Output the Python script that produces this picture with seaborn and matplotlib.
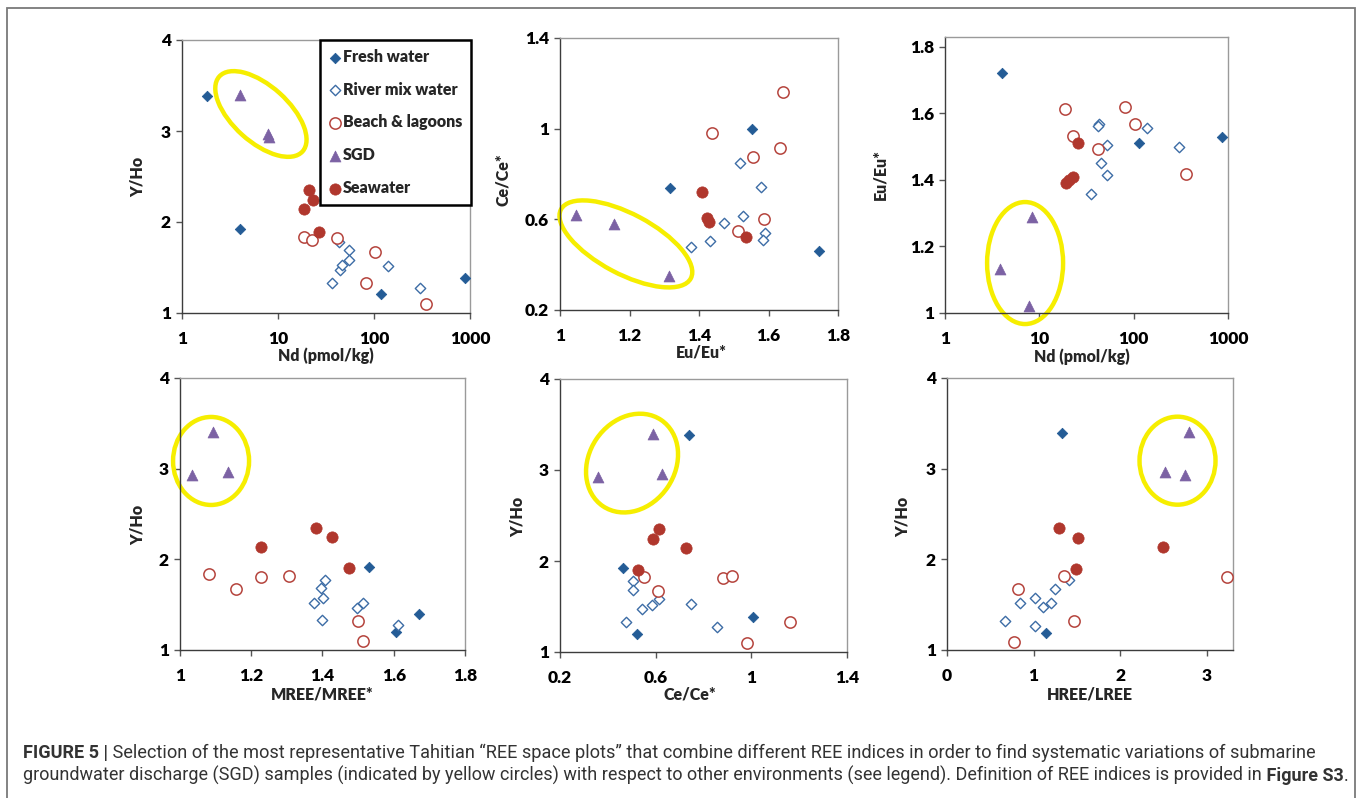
import matplotlib
matplotlib.use("Agg")
import matplotlib.pyplot as plt
import seaborn as sns
import pandas as pd
from matplotlib.patches import Ellipse, Rectangle
from matplotlib import transforms as mtransforms
from matplotlib import font_manager as fm
from matplotlib.ticker import FixedLocator, FuncFormatter, NullLocator

# ---------------- data ----------------
GROUPS = ["Fresh water", "River mix water", "Beach & lagoons", "SGD", "Seawater"]

# Panel A : Nd (pmol/kg) vs Y/Ho
A_FRESH_X = [1.8, 4.0, 118, 890]
A_FRESH_Y = [3.38, 1.92, 1.21, 1.39]
A_RIVER_X = [36.5, 42.8, 43.9, 46.4, 54.5, 54.5, 139, 304]
A_RIVER_Y = [1.33, 1.78, 1.47, 1.53, 1.69, 1.58, 1.52, 1.27]
A_BEACH_X = [18.5, 22.6, 41.2, 103, 83, 351]
A_BEACH_Y = [1.83, 1.80, 1.82, 1.67, 1.33, 1.10]
A_SGD_X = [4.0, 7.8, 8.1]
A_SGD_Y = [3.40, 2.97, 2.93]
A_SEA_X = [20.9, 23.2, 18.8, 26.5]
A_SEA_Y = [2.35, 2.24, 2.14, 1.89]

# Panel B : Eu/Eu* vs Ce/Ce*
B_FRESH_X = [1.316, 1.553, 1.745]
B_FRESH_Y = [0.74, 1.00, 0.46]
B_RIVER_X = [1.377, 1.431, 1.471, 1.519, 1.527, 1.578, 1.590, 1.583]
B_RIVER_Y = [0.48, 0.506, 0.583, 0.848, 0.615, 0.742, 0.538, 0.51]
B_BEACH_X = [1.436, 1.556, 1.642, 1.634, 1.586, 1.512]
B_BEACH_Y = [0.983, 0.877, 1.16, 0.913, 0.602, 0.549]
B_SGD_X = [1.045, 1.156, 1.314]
B_SGD_Y = [0.62, 0.58, 0.35]
B_SEA_X = [1.409, 1.422, 1.429, 1.535]
B_SEA_Y = [0.72, 0.605, 0.59, 0.52]

# Panel C : Nd (pmol/kg) vs Eu/Eu*
C_FRESH_X = [3.98, 113, 871]
C_FRESH_Y = [1.723, 1.512, 1.528]
C_RIVER_X = [43.1, 42.0, 52.4, 45.6, 52.4, 35.7, 137, 303]
C_RIVER_Y = [1.567, 1.562, 1.505, 1.45, 1.415, 1.358, 1.555, 1.498]
C_BEACH_X = [18.7, 22.5, 41.4, 81.9, 103, 356]
C_BEACH_Y = [1.612, 1.532, 1.492, 1.618, 1.567, 1.418]
C_SGD_X = [8.27, 3.82, 7.82]
C_SGD_Y = [1.29, 1.133, 1.022]
C_SEA_X = [25.8, 19.1, 20.7, 22.9]
C_SEA_Y = [1.512, 1.39, 1.40, 1.41]

# Panel D : MREE/MREE* vs Y/Ho
D_FRESH_X = [1.531, 1.672, 1.605]
D_FRESH_Y = [1.91, 1.40, 1.20]
D_RIVER_X = [1.407, 1.396, 1.402, 1.377, 1.398, 1.496, 1.513, 1.613]
D_RIVER_Y = [1.77, 1.68, 1.57, 1.52, 1.33, 1.46, 1.52, 1.28]
D_BEACH_X = [1.080, 1.157, 1.227, 1.305, 1.501, 1.513]
D_BEACH_Y = [1.84, 1.67, 1.81, 1.82, 1.32, 1.10]
D_SGD_X = [1.094, 1.033, 1.136]
D_SGD_Y = [3.40, 2.93, 2.96]
D_SEA_X = [1.382, 1.426, 1.227, 1.474]
D_SEA_Y = [2.35, 2.25, 2.14, 1.90]

# Panel E : Ce/Ce* vs Y/Ho
E_FRESH_X = [0.741, 0.465, 0.521, 1.009]
E_FRESH_Y = [3.38, 1.92, 1.20, 1.39]
E_RIVER_X = [0.507, 0.507, 0.476, 0.542, 0.584, 0.616, 0.747, 0.856]
E_RIVER_Y = [1.78, 1.68, 1.33, 1.47, 1.52, 1.58, 1.53, 1.27]
E_BEACH_X = [0.552, 0.609, 0.881, 0.921, 1.163, 0.981]
E_BEACH_Y = [1.82, 1.67, 1.81, 1.83, 1.33, 1.10]
E_SGD_X = [0.588, 0.360, 0.628]
E_SGD_Y = [3.40, 2.92, 2.96]
E_SEA_X = [0.614, 0.587, 0.727, 0.528]
E_SEA_Y = [2.35, 2.24, 2.14, 1.90]

# Panel F : HREE/LREE vs Y/Ho
F_FRESH_X = [1.323, 1.146]
F_FRESH_Y = [3.39, 1.19]
F_RIVER_X = [0.665, 0.838, 1.012, 1.019, 1.104, 1.20, 1.242, 1.404]
F_RIVER_Y = [1.32, 1.52, 1.57, 1.27, 1.47, 1.52, 1.67, 1.77]
F_BEACH_X = [0.815, 0.769, 1.346, 1.469, 3.231]
F_BEACH_Y = [1.67, 1.09, 1.82, 1.32, 1.80]
F_SGD_X = [2.788, 2.519, 2.75]
F_SGD_Y = [3.40, 2.96, 2.93]
F_SEA_X = [1.288, 1.508, 2.488, 1.488]
F_SEA_Y = [2.35, 2.24, 2.14, 1.89]

X_LABELS = ["Nd (pmol/kg)", "Eu/Eu*", "Nd (pmol/kg)", "MREE/MREE*", "Ce/Ce*", "HREE/LREE"]
Y_LABELS = ["Y/Ho", "Ce/Ce*", "Eu/Eu*", "Y/Ho", "Y/Ho", "Y/Ho"]
CAPTION_L1_BOLD = "FIGURE 5 |"
CAPTION_L1 = (" Selection of the most representative Tahitian \u201cREE space plots\u201d that combine "
              "different REE indices in order to find systematic variations of submarine")
CAPTION_L2 = ("groundwater discharge (SGD) samples (indicated by yellow circles) with respect to "
              "other environments (see legend). Definition of REE indices is provided in")
CAPTION_L2_BOLD = " Figure S3"


def long_frame(xs_list, ys_list):
    return pd.concat([pd.DataFrame({"x": x, "y": y, "group": g})
                      for g, x, y in zip(GROUPS, xs_list, ys_list)], ignore_index=True)


DATA = [
    long_frame([A_FRESH_X, A_RIVER_X, A_BEACH_X, A_SGD_X, A_SEA_X],
               [A_FRESH_Y, A_RIVER_Y, A_BEACH_Y, A_SGD_Y, A_SEA_Y]),
    long_frame([B_FRESH_X, B_RIVER_X, B_BEACH_X, B_SGD_X, B_SEA_X],
               [B_FRESH_Y, B_RIVER_Y, B_BEACH_Y, B_SGD_Y, B_SEA_Y]),
    long_frame([C_FRESH_X, C_RIVER_X, C_BEACH_X, C_SGD_X, C_SEA_X],
               [C_FRESH_Y, C_RIVER_Y, C_BEACH_Y, C_SGD_Y, C_SEA_Y]),
    long_frame([D_FRESH_X, D_RIVER_X, D_BEACH_X, D_SGD_X, D_SEA_X],
               [D_FRESH_Y, D_RIVER_Y, D_BEACH_Y, D_SGD_Y, D_SEA_Y]),
    long_frame([E_FRESH_X, E_RIVER_X, E_BEACH_X, E_SGD_X, E_SEA_X],
               [E_FRESH_Y, E_RIVER_Y, E_BEACH_Y, E_SGD_Y, E_SEA_Y]),
    long_frame([F_FRESH_X, F_RIVER_X, F_BEACH_X, F_SGD_X, F_SEA_X],
               [F_FRESH_Y, F_RIVER_Y, F_BEACH_Y, F_SGD_Y, F_SEA_Y]),
]

# ---------------- styling ----------------
W, H, DPI = 1358, 798, 100
sns.set_style("ticks")
plt.rcParams["font.family"] = ["Lato", "DejaVu Sans"]
plt.rcParams["font.weight"] = "bold"
HEAVY = "heavy"

STYLE = {
    "Fresh water":     dict(marker="D", s=28, facecolor="#245C96", edgecolor="#245C96", linewidth=0.6),
    "River mix water": dict(marker="D", s=28, facecolor="white", edgecolor="#3D6DA6", linewidth=1.0),
    "Beach & lagoons": dict(marker="o", s=66, facecolor="white", edgecolor="#B5443D", linewidth=1.1),
    "SGD":             dict(marker="^", s=62, facecolor="#7C62A4", edgecolor="#7C62A4", linewidth=0.5),
    "Seawater":        dict(marker="o", s=66, facecolor="#B0372D", edgecolor="#B0372D", linewidth=0.5),
}
YELLOW = "#F6EE00"

# axes boxes in pixels: left, top, right, bottom
BOXES = [(182, 40, 470, 313), (560, 38, 838, 310), (945, 37, 1228, 313),
         (180, 378, 465, 650), (560, 379, 847, 652), (947, 378, 1233, 650)]
LOGX = [True, False, True, False, False, False]
XLIM = [(1, 1000), (1, 1.8), (1, 1000), (1, 1.8), (0.2, 1.4), (0, 3.3)]
YLIM = [(1, 4), (0.2, 1.4), (1, 1.83), (1, 4), (1, 4), (1, 4)]
XTICKS = [[1, 10, 100, 1000], [1, 1.2, 1.4, 1.6, 1.8], [1, 10, 100, 1000],
          [1, 1.2, 1.4, 1.6, 1.8], [0.2, 0.6, 1.0, 1.4], [0, 1, 2, 3]]
YTICKS = [[1, 2, 3, 4], [0.2, 0.6, 1.0, 1.4], [1, 1.2, 1.4, 1.6, 1.8],
          [1, 2, 3, 4], [1, 2, 3, 4], [1, 2, 3, 4]]
XLAB_POS = [(0.50, -0.155), (0.51, -0.158), (0.484, -0.159), (0.50, -0.162), (0.453, -0.157), (0.50, -0.165)]
YLAB_POS = [(-0.153, 0.50), (-0.205, 0.478), (-0.23, 0.50), (-0.147, 0.46), (-0.146, 0.494), (-0.154, 0.49)]
# ellipses: centre (axes fraction), width/height (px), angle (deg)
RINGS = [(0.274, 0.729, 112, 56, -42), (0.237, 0.243, 147, 60, -28), (0.283, 0.181, 76, 122, 0),
         (0.109, 0.695, 76, 88, 0), (0.251, 0.692, 104, 86, 56), (0.806, 0.696, 76, 88, 0)]

fig = plt.figure(figsize=(W / DPI, H / DPI), dpi=DPI)
fig.patch.set_facecolor("white")

fmt = FuncFormatter(lambda v, p: f"{v:g}")
axes = []
for i, (l, t, r, b) in enumerate(BOXES):
    ax = fig.add_axes([l / W, 1 - b / H, (r - l) / W, (b - t) / H])
    axes.append(ax)
    if LOGX[i]:
        ax.set_xscale("log")
    df = DATA[i]
    for g in GROUPS:
        sub = df[df["group"] == g]
        sns.scatterplot(data=sub, x="x", y="y", ax=ax, legend=False, zorder=3,
                        label=g if i == 0 else None, **STYLE[g])
    ax.set_xlim(*XLIM[i])
    ax.set_ylim(*YLIM[i])
    ax.xaxis.set_major_locator(FixedLocator(XTICKS[i]))
    ax.yaxis.set_major_locator(FixedLocator(YTICKS[i]))
    ax.xaxis.set_minor_locator(NullLocator())
    ax.yaxis.set_minor_locator(NullLocator())
    ax.xaxis.set_major_formatter(fmt)
    ax.yaxis.set_major_formatter(fmt)
    ax.tick_params(axis="both", direction="out", length=4, width=1, color="#555555",
                   labelsize=12.5, labelcolor="black")
    ax.tick_params(axis="x", pad=9)
    ax.tick_params(axis="y", pad=4)
    for side in ["left", "bottom"]:
        ax.spines[side].set_color("#3c3c3c")
        ax.spines[side].set_linewidth(1.0)
    for side in ["top", "right"]:
        ax.spines[side].set_color("#9a9a9a")
        ax.spines[side].set_linewidth(1.0)
    ax.set_xlabel(X_LABELS[i], fontsize=11.5, fontweight=HEAVY)
    ax.set_ylabel(Y_LABELS[i], fontsize=11.5, fontweight=HEAVY)
    ax.xaxis.set_label_coords(*XLAB_POS[i])
    ax.yaxis.set_label_coords(*YLAB_POS[i])
    ax.xaxis.label.set_va("center")
    ax.yaxis.label.set_va("center")

    cx, cy, wpx, hpx, ang = RINGS[i]
    tr = fig.dpi_scale_trans + mtransforms.ScaledTranslation(cx, cy, ax.transAxes)
    ring = Ellipse((0, 0), wpx / DPI, hpx / DPI, angle=ang, transform=tr, fill=False,
                   edgecolor=YELLOW, linewidth=3.2, clip_on=False, zorder=2)
    ax.add_artist(ring)

leg = axes[0].legend(loc="upper right", bbox_to_anchor=(1.003, 1.0), borderaxespad=0,
                     frameon=True, fancybox=False, edgecolor="black", framealpha=1,
                     prop=dict(family=["Lato", "DejaVu Sans"], weight=HEAVY, size=11.5),
                     labelspacing=1.05, handlelength=0.7, handletextpad=0.15,
                     borderpad=0.55, scatterpoints=1)
leg.get_frame().set_linewidth(1.8)
leg.set_zorder(5)

# outer border of the figure
fig.add_artist(Rectangle((7 / W, -0.02), (1355 - 7) / W, 1.02 - 8 / H, transform=fig.transFigure,
                         fill=False, edgecolor="#7a7a7a", linewidth=1.3))

fig.canvas.draw()
for ax in axes:
    for lab in ax.get_xticklabels() + ax.get_yticklabels():
        lab.set_fontweight(HEAVY)

# ---------------- caption ----------------
avail = {f.name for f in fm.fontManager.ttflist}
CAP_FAMILY = "Liberation Sans Narrow" if "Liberation Sans Narrow" in avail else "Roboto"
CAP_COLOR = "#333333"
rend = fig.canvas.get_renderer()


def put_line(pieces, x0, ybase, fs):
    x = x0
    arts = []
    for txt, wt in pieces:
        t = fig.text(x / W, 1 - ybase / H, txt, fontsize=fs, fontweight=wt, family=CAP_FAMILY,
                     color=CAP_COLOR, ha="left", va="baseline")
        arts.append(t)
        x += t.get_window_extent(rend).width
    return arts, x


def fitted_line(pieces, x0, x1, ybase, fs0=11.0):
    arts, xend = put_line(pieces, x0, ybase, fs0)
    for a in arts:
        a.remove()
    fs = fs0 * (x1 - x0) / (xend - x0)
    put_line(pieces, x0, ybase, fs)


line1 = [(CAPTION_L1_BOLD, "bold"), (CAPTION_L1, "normal")]
line2 = [(CAPTION_L2, "normal"), (CAPTION_L2_BOLD, "bold"), (".", "normal")]
fitted_line(line1, 23, 1307, 758)
fitted_line(line2, 23, 1340, 781)

fig.savefig("out.png", dpi=DPI, facecolor="white")
